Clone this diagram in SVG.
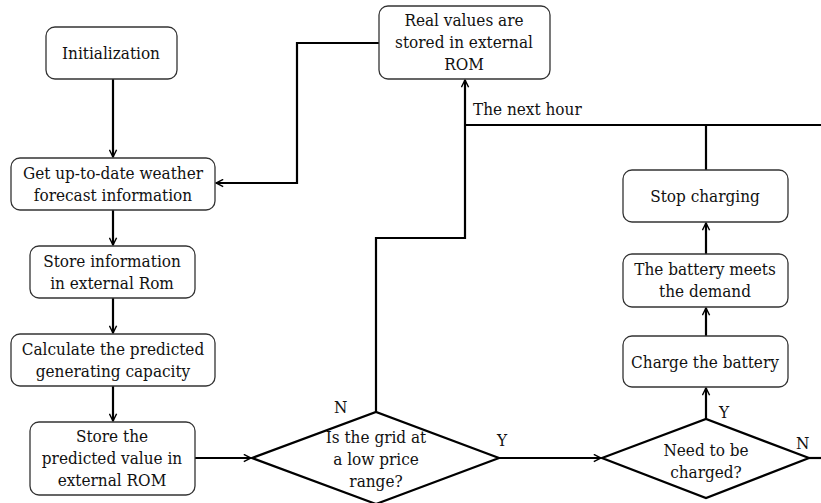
<svg xmlns="http://www.w3.org/2000/svg" width="821" height="503" viewBox="0 0 821 503">
  <defs>
    <marker id="arr" viewBox="0 0 10 10" refX="9" refY="5" markerWidth="9" markerHeight="9" markerUnits="userSpaceOnUse" orient="auto">
      <path d="M1,1 L9,5 L1,9" fill="none" stroke="#000" stroke-width="1.6"/>
    </marker>
  </defs>
  <style>
    .box { fill: #fff; stroke: #333; stroke-width: 1.3; }
    .dia { fill: #fff; stroke: #000; stroke-width: 2.2; }
    .ln { fill: none; stroke: #000; stroke-width: 2.2; }
    text { font-family: "DejaVu Serif Condensed", "DejaVu Serif", serif; font-stretch: condensed; font-size: 17px; fill: #111; text-anchor: middle; }
    .lbl { text-anchor: start; }
  </style>
  <rect width="821" height="503" fill="#fff"/>

  <g id="connectors">
    <line class="ln" x1="113" y1="79" x2="113" y2="157" marker-end="url(#arr)"/>
    <line class="ln" x1="113" y1="210" x2="113" y2="245" marker-end="url(#arr)"/>
    <line class="ln" x1="113" y1="298" x2="113" y2="333" marker-end="url(#arr)"/>
    <line class="ln" x1="113" y1="386" x2="113" y2="421" marker-end="url(#arr)"/>
    <polyline class="ln" points="379,43 297,43 297,183 216,183" marker-end="url(#arr)"/>
    <line class="ln" x1="195" y1="458" x2="251" y2="458" marker-end="url(#arr)"/>
    <polyline class="ln" points="376,412 376,238 465,238 465,80" marker-end="url(#arr)"/>
    <line class="ln" x1="465" y1="125" x2="821" y2="125"/>
    <line class="ln" x1="706" y1="125" x2="706" y2="170"/>
    <line class="ln" x1="499" y1="458" x2="601" y2="458" marker-end="url(#arr)"/>
    <line class="ln" x1="706" y1="419" x2="706" y2="388" marker-end="url(#arr)"/>
    <line class="ln" x1="706" y1="336" x2="706" y2="308" marker-end="url(#arr)"/>
    <line class="ln" x1="706" y1="254" x2="706" y2="223" marker-end="url(#arr)"/>
    <line class="ln" x1="809" y1="458" x2="821" y2="458"/>
  </g>

  <g id="edge-labels">
    <text class="lbl" x="473" y="115">The next hour</text>
    <text class="lbl" x="334" y="413">N</text>
    <text class="lbl" x="497" y="446">Y</text>
    <text class="lbl" x="719" y="418">Y</text>
    <text class="lbl" x="796" y="449">N</text>
  </g>
  <g id="init">
    <rect class="box" x="46" y="27" width="131" height="52" rx="9"/>
    <text x="111" y="59">Initialization</text>
  </g>
  <g id="weather">
    <rect class="box" x="11" y="158" width="204" height="52" rx="9"/>
    <text x="113" y="179">Get up-to-date weather</text>
    <text x="113" y="201">forecast information</text>
  </g>
  <g id="store-info">
    <rect class="box" x="30" y="246" width="165" height="52" rx="9"/>
    <text x="112" y="267">Store information</text>
    <text x="112" y="289">in external Rom</text>
  </g>
  <g id="calc">
    <rect class="box" x="11" y="334" width="204" height="52" rx="9"/>
    <text x="113" y="355">Calculate the predicted</text>
    <text x="113" y="377">generating capacity</text>
  </g>
  <g id="store-pred">
    <rect class="box" x="30" y="422" width="165" height="73" rx="9"/>
    <text x="112" y="442">Store the</text>
    <text x="112" y="464">predicted value in</text>
    <text x="112" y="486">external ROM</text>
  </g>
  <g id="real-values">
    <rect class="box" x="379" y="6" width="171" height="73" rx="9"/>
    <text x="464" y="26">Real values are</text>
    <text x="464" y="48">stored in external</text>
    <text x="464" y="70">ROM</text>
  </g>
  <g id="low-price">
    <polygon class="dia" points="252,458 376,412 499,458 376,504"/>
    <text x="376" y="443">Is the grid at</text>
    <text x="376" y="465">a low price</text>
    <text x="376" y="487">range?</text>
  </g>
  <g id="need-charge">
    <polygon class="dia" points="602,458 706,419 809,458 706,498"/>
    <text x="706" y="456">Need to be</text>
    <text x="706" y="478">charged?</text>
  </g>
  <g id="charge">
    <rect class="box" x="623" y="336" width="165" height="51" rx="9"/>
    <text x="705" y="368">Charge the battery</text>
  </g>
  <g id="meets">
    <rect class="box" x="623" y="254" width="165" height="53" rx="9"/>
    <text x="705" y="275">The battery meets</text>
    <text x="705" y="297">the demand</text>
  </g>
  <g id="stop">
    <rect class="box" x="623" y="170" width="165" height="52" rx="9"/>
    <text x="705" y="202">Stop charging</text>
  </g>
</svg>
